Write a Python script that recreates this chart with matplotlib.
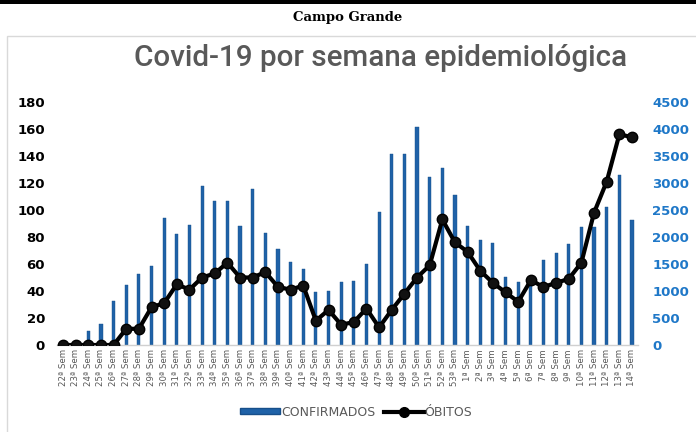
import matplotlib
matplotlib.use("Agg")
import matplotlib.pyplot as plt
from matplotlib.patches import Rectangle
from matplotlib.lines import Line2D
from matplotlib.patches import Patch

semanas = [f"{n}ª Sem" for n in range(22, 54)] + [f"{n}ª Sem" for n in range(1, 15)]
confirmados = [0, 0, 260, 395, 810, 1110, 1310, 1465, 2345, 2055, 2215, 2950, 2660, 2670,
               2210, 2895, 2070, 1785, 1530, 1400, 990, 1005, 1160, 1180, 1505, 2455, 3530,
               3530, 4030, 3110, 3285, 2770, 2210, 1940, 1890, 1255, 1175, 1230, 1580, 1700,
               1865, 2190, 2185, 2555, 3150, 2315]
obitos = [0, 0, 0, 0, 0, 12, 12, 28, 31, 45, 41, 50, 53, 61,
          50, 50, 54, 43, 41, 44, 18, 26, 15, 17, 27, 13, 26,
          38, 50, 59, 93, 76, 69, 55, 46, 39, 32, 48, 43, 46,
          49, 61, 98, 121, 156, 154]
left_ticks = list(range(0, 181, 20))
right_ticks = list(range(0, 4501, 500))

fig = plt.figure(figsize=(6.96, 4.32), dpi=100)
fig.patch.set_facecolor("white")

# top black rule
fig.add_artist(Rectangle((0, 1 - 4 / 432), 1, 4 / 432, transform=fig.transFigure,
                         facecolor="black", edgecolor="none"))
# chart frame
fig.add_artist(Rectangle((7 / 696, -0.01), 1.0, (432 - 36) / 432 + 0.01, transform=fig.transFigure,
                         facecolor="none", edgecolor="#d9d9d9", lw=1))

fig.text(0.5, 1 - 17 / 432, "Campo Grande", ha="center", va="center",
         fontsize=9.5, fontweight="bold", family="DejaVu Serif", color="black")
fig.text(0.5475, 1 - 58 / 432, "Covid-19 por semana epidemiológica", ha="center", va="center",
         fontsize=21.3, family="Roboto", fontweight="medium", color="#595959")

ax = fig.add_axes([56.7 / 696, 1 - 345 / 432, (638.3 - 56.7) / 696, 243 / 432])
ax2 = ax.twinx()

x = list(range(len(semanas)))
ax2.bar(x, confirmados, width=0.25, color="#1f62a8", edgecolor="#174f8a", lw=0.3, zorder=1)
ax.plot(x, obitos, color="black", lw=3, marker="o", markersize=7.5,
        markerfacecolor="#111111", markeredgecolor="black", zorder=5)

ax.set_zorder(ax2.get_zorder() + 1)
ax.patch.set_visible(False)

ax.set_xlim(-0.5, len(semanas) - 0.5)
ax.set_ylim(0, 180)
ax2.set_ylim(0, 4500)
ax.set_yticks(left_ticks)
ax2.set_yticks(right_ticks)
ax.set_xticks(x)
ax.set_xticklabels(semanas, rotation=90, fontsize=6.2, color="#595959")

for a in (ax, ax2):
    for s in a.spines.values():
        s.set_visible(False)
ax.spines["bottom"].set_visible(True)
ax.spines["bottom"].set_color("#d0d0d0")
ax.spines["bottom"].set_linewidth(1)

ax.tick_params(axis="x", length=0, pad=3)
ax.tick_params(axis="y", length=0, pad=8.5, labelsize=9.5, labelcolor="black")
ax2.tick_params(axis="y", length=0, pad=10, labelsize=9.5, labelcolor="#1f78c8")
for lab in ax.get_yticklabels():
    lab.set_fontweight("bold")
for lab in ax2.get_yticklabels():
    lab.set_fontweight("bold")

handles = [Patch(facecolor="#1f62a8", edgecolor="#174f8a"),
           Line2D([0], [0], color="black", lw=3, marker="o", markersize=7)]
fig.legend(handles, ["CONFIRMADOS", "ÓBITOS"], loc="center", bbox_to_anchor=(0.512, 1 - 412 / 432),
           ncol=2, frameon=False, fontsize=9, labelcolor="#595959", handlelength=3.2,
           handleheight=0.45, columnspacing=0.7, handletextpad=0.05)

fig.savefig("out.png", dpi=100, facecolor="white")
